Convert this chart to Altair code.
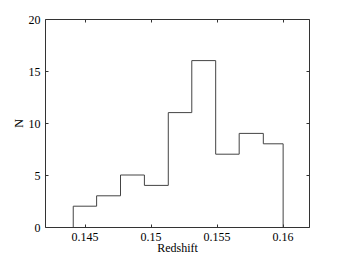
import altair as alt
import pandas as pd

# bin edges (redshift) and counts
edges = [0.14414, 0.14591, 0.14772, 0.14953, 0.15134, 0.15312, 0.15493, 0.15671, 0.15854, 0.16004]
counts = [2, 3, 5, 4, 11, 16, 7, 9, 8]
x_ticks = [0.145, 0.15, 0.155, 0.16]
y_ticks = [0, 5, 10, 15, 20]

# step outline points
xs = [edges[0]] + edges[:-1] + [edges[-1], edges[-1]]
ys = [0] + counts + [counts[-1], 0]
df = pd.DataFrame({"z": xs, "n": ys, "order": list(range(len(xs)))})

FONT = "'Liberation Serif', 'Times New Roman', serif"
xscale = alt.Scale(domain=[0.142, 0.162], nice=False, zero=False)
yscale = alt.Scale(domain=[0, 20], nice=False)

common_axis = dict(grid=False, domain=False, tickSize=3, offset=-3, tickColor="#333",
                   labelFont=FONT, labelFontSize=12, labelColor="#000",
                   titleFont=FONT, titleFontSize=12, titleFontWeight="normal", titleColor="#000")

line = alt.Chart(df).mark_line(interpolate="step-after", color="#444", strokeWidth=1).encode(
    x=alt.X("z:Q", scale=xscale,
            axis=alt.Axis(orient="bottom", values=x_ticks, title="Redshift", format="~g",
                          labelPadding=4, titlePadding=0, **common_axis)),
    y=alt.Y("n:Q", scale=yscale,
            axis=alt.Axis(orient="left", values=y_ticks, title="N", labelPadding=5,
                          titlePadding=3, titleAngle=-90, **common_axis)),
    order="order:Q",
)

# top/right ticks (no labels)
frame = alt.Chart(df).mark_point(opacity=0).encode(
    x=alt.X("z:Q", scale=xscale,
            axis=alt.Axis(orient="top", values=x_ticks, labels=False, title=None, grid=False,
                          domain=False, tickSize=3, offset=-3, tickColor="#333")),
    y=alt.Y("n:Q", scale=yscale,
            axis=alt.Axis(orient="right", values=y_ticks, labels=False, title=None, grid=False,
                          domain=False, tickSize=3, offset=-3, tickColor="#333")),
)

chart = alt.layer(line, frame).resolve_axis(x="independent", y="independent").properties(
    width=264, height=208,
    autosize=alt.AutoSizeParams(type="none"),
    padding={"left": 37, "top": 11, "right": 24, "bottom": 29},
    background="white",
).configure_view(stroke="#333", strokeWidth=1)

chart.save("out.html", embed_options={"renderer": "svg", "actions": False})
